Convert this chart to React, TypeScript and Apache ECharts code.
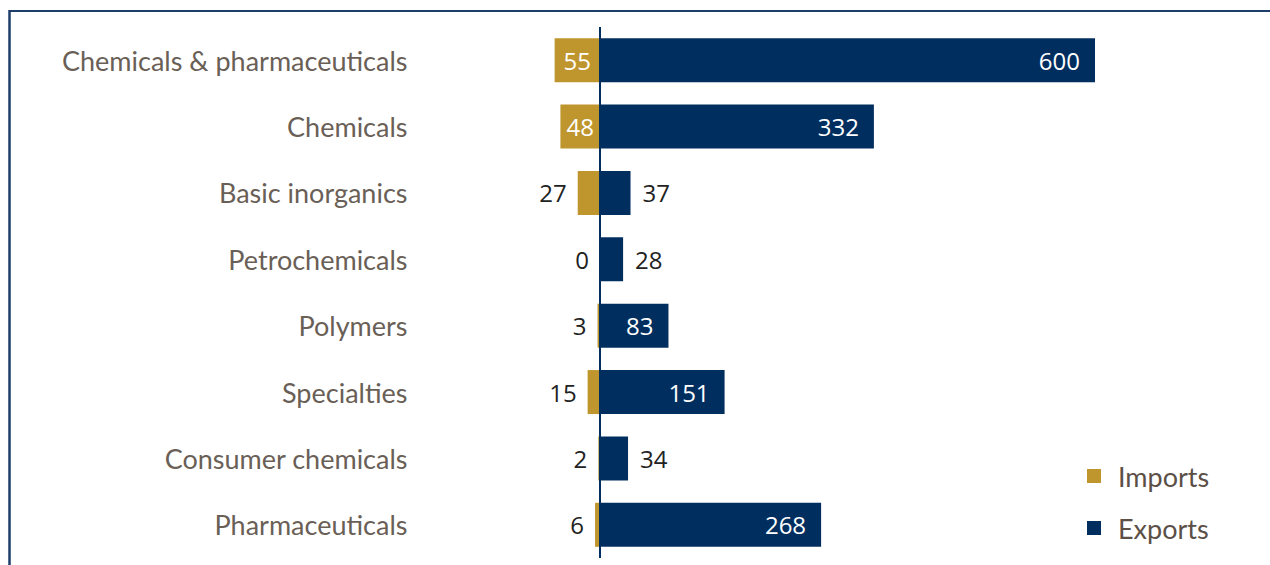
import React, { useEffect, useRef } from "react";
import * as echarts from "echarts";

const categories = [
  "Chemicals & pharmaceuticals",
  "Chemicals",
  "Basic inorganics",
  "Petrochemicals",
  "Polymers",
  "Specialties",
  "Consumer chemicals",
  "Pharmaceuticals",
];
const imports = [55, 48, 27, 0, 3, 15, 2, 6];
const exportsVals = [600, 332, 37, 28, 83, 151, 34, 268];
const importInsideMin = 40;
const exportInsideMin = 60;

const GOLD = "#bf962d";
const NAVY = "#002f5f";

export default function App() {
  const ref = useRef<HTMLDivElement>(null);
  useEffect(() => {
    if (!ref.current) return;
    const chart = echarts.init(ref.current, undefined, { renderer: "svg" });
    const valueFont = "Open Sans";
    chart.setOption({
      animation: false,
      backgroundColor: "#ffffff",
      grid: { left: 418.5, right: 10, top: 27, bottom: 7, containLabel: false },
      xAxis: {
        type: "value",
        min: -220,
        max: 800,
        show: false,
      },
      yAxis: {
        type: "category",
        inverse: true,
        data: categories,
        axisLine: { show: false },
        axisTick: { show: false },
        splitLine: { show: false },
        axisLabel: {
          margin: 11,
          fontFamily: "Lato",
          fontSize: 27,
          color: "#6a5f57",
        },
      },
      legend: {
        orient: "vertical",
        left: 1082,
        top: 457,
        icon: "rect",
        itemWidth: 14,
        itemHeight: 14,
        itemGap: 24,
        data: ["Imports", "Exports"],
        textStyle: {
          fontFamily: "Lato",
          fontSize: 27,
          lineHeight: 28,
          color: "#5b4f47",
          padding: [0, 0, 0, 12],
        },
      },
      series: [
        {
          name: "Imports",
          type: "bar",
          stack: "total",
          barWidth: 44,
          itemStyle: { color: GOLD },
          data: imports.map((v) => {
            const inside = v >= importInsideMin;
            return {
              value: -v,
              label: {
                show: true,
                position: inside ? "inside" : "left",
                distance: 11,
                color: inside ? "#ffffff" : "#222222",
                fontFamily: valueFont,
                fontSize: 24,
                formatter: () => String(v),
              },
            };
          }),
        },
        {
          name: "Exports",
          type: "bar",
          stack: "total",
          barWidth: 44,
          itemStyle: { color: NAVY },
          data: exportsVals.map((v) => {
            const inside = v >= exportInsideMin;
            return {
              value: v,
              label: {
                show: true,
                position: inside ? "insideRight" : "right",
                distance: inside ? 15 : 12,
                color: inside ? "#ffffff" : "#222222",
                fontFamily: valueFont,
                fontSize: 24,
              },
            };
          }),
          markLine: {
            silent: true,
            symbol: "none",
            label: { show: false },
            lineStyle: { color: NAVY, width: 2, type: "solid" },
            data: [{ xAxis: 0 }],
          },
        },
      ],
      graphic: [
        {
          type: "line",
          shape: { x1: 1270, y1: 11, x2: 9, y2: 11 },
          style: { stroke: "#1d3d6b", lineWidth: 2 },
        },
        {
          type: "line",
          shape: { x1: 9.5, y1: 10, x2: 9.5, y2: 565 },
          style: { stroke: "#1d3d6b", lineWidth: 2.5 },
        },
      ],
    });
    return () => chart.dispose();
  }, []);
  return (
    <div
      ref={ref}
      style={{ position: "fixed", left: 0, top: 0, width: 1270, height: 565 }}
    />
  );
}
